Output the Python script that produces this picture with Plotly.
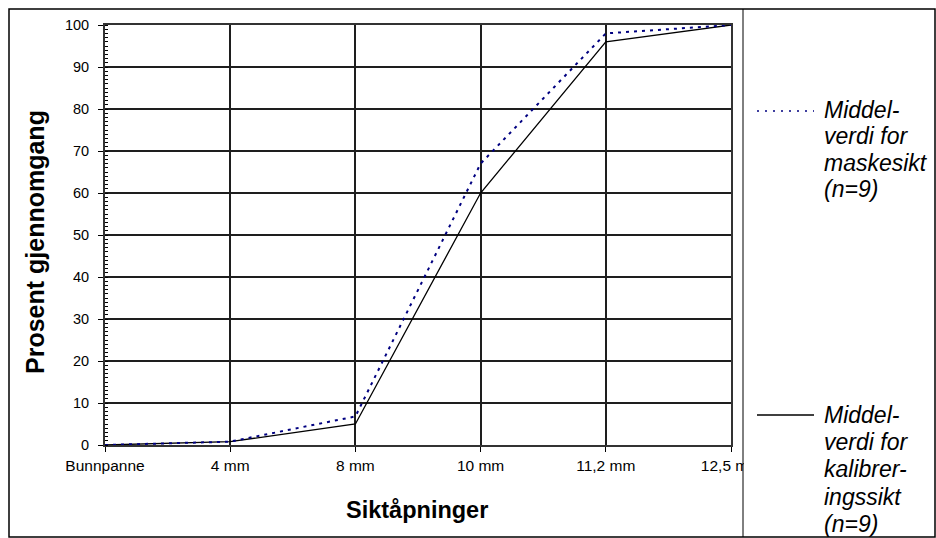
import plotly.graph_objects as go

categories = ["Bunnpanne", "4 mm", "8 mm", "10 mm", "11,2 mm", "12,5 mm"]
maskesikt = [0, 0.8, 6.8, 67, 98, 100]
kalibrering = [0, 0.8, 5, 60, 96, 100]
y_ticks = [0, 10, 20, 30, 40, 50, 60, 70, 80, 90, 100]

legend_mask = ["Middel-", "verdi for", "maskesikt", "(n=9)"]
legend_kal = ["Middel-", "verdi for", "kalibrer-", "ingssikt", "(n=9)"]

W, H = 936, 538
FONT = "Liberation Sans, Arial, sans-serif"

def px(x):
    return x / W

def py(y):
    return 1 - y / H

fig = go.Figure()
fig.add_trace(go.Scatter(x=categories, y=kalibrering, mode="lines",
                         line=dict(color="black", width=1.3), name="kal"))
fig.add_trace(go.Scatter(x=categories, y=maskesikt, mode="lines",
                         line=dict(color="#000080", width=2, dash="3px,5px"), name="mask"))

fig.update_layout(
    template="none",
    width=W, height=H, margin=dict(l=0, r=0, t=0, b=0, autoexpand=False),
    paper_bgcolor="white", plot_bgcolor="white", showlegend=False,
    font=dict(family=FONT, color="black"),
    xaxis=dict(type="category", categoryorder="array", categoryarray=categories,
               range=[0, 5], domain=[px(105), px(731)], automargin=False,
               showgrid=True, gridcolor="#1e1e1e", gridwidth=2,
               showline=True, linecolor="#333", linewidth=2, mirror=True,
               ticks="outside", ticklen=5, tickcolor="black",
               tickfont=dict(size=15.5, family=FONT), zeroline=False),
    yaxis=dict(range=[0, 100], domain=[py(445), py(25)], automargin=False,
               tickmode="array", tickvals=y_ticks,
               showgrid=True, gridcolor="#1e1e1e", gridwidth=2,
               showline=True, linecolor="#333", linewidth=2, mirror=True,
               ticks="outside", ticklen=5, tickcolor="black", ticklabelstandoff=6,
               minor=dict(dtick=1, ticks="inside", ticklen=3, tickcolor="black", showgrid=False),
               tickfont=dict(size=14.5, family=FONT), zeroline=False),
)

shapes = []
# white cover for legend area (clips the last tick label)
shapes.append(dict(type="rect", xref="paper", yref="paper", layer="above",
                   x0=px(744), x1=px(934), y0=py(536), y1=py(10),
                   fillcolor="white", line=dict(width=0)))
# outer border
shapes.append(dict(type="rect", xref="paper", yref="paper", layer="above",
                   x0=px(9), x1=px(935), y0=py(537), y1=py(9),
                   line=dict(color="black", width=1.5)))
# separator
shapes.append(dict(type="line", xref="paper", yref="paper", layer="above",
                   x0=px(743), x1=px(743), y0=py(537), y1=py(9),
                   line=dict(color="black", width=1)))
# legend samples
shapes.append(dict(type="line", xref="paper", yref="paper", layer="above",
                   x0=px(757), x1=px(814), y0=py(111), y1=py(111),
                   line=dict(color="#000080", width=1.5, dash="2px,6px")))
shapes.append(dict(type="line", xref="paper", yref="paper", layer="above",
                   x0=px(757), x1=px(814), y0=py(415), y1=py(415),
                   line=dict(color="black", width=1.3)))

LEG_SIZE = 23
annotations = []
for i, t in enumerate(legend_mask):
    annotations.append(dict(text=t, xref="paper", yref="paper", x=px(822), y=py(110 + 26.3 * i),
                            xanchor="left", yanchor="middle", showarrow=False,
                            font=dict(size=LEG_SIZE, family=FONT, style="italic", color="black")))
for i, t in enumerate(legend_kal):
    annotations.append(dict(text=t, xref="paper", yref="paper", x=px(822), y=py(415 + 27.2 * i),
                            xanchor="left", yanchor="middle", showarrow=False,
                            font=dict(size=LEG_SIZE, family=FONT, style="italic", color="black")))
annotations.append(dict(text="<b>Siktåpninger</b>", xref="paper", yref="paper",
                        x=px(417), y=py(510), xanchor="center", yanchor="middle",
                        showarrow=False, font=dict(size=23.5, family=FONT)))
annotations.append(dict(text="<b>Prosent gjennomgang</b>", xref="paper", yref="paper",
                        x=px(35), y=py(242), xanchor="center", yanchor="middle", textangle=-90,
                        showarrow=False, font=dict(size=25, family=FONT)))

fig.update_layout(shapes=shapes, annotations=annotations)
fig.write_html("out.html")
